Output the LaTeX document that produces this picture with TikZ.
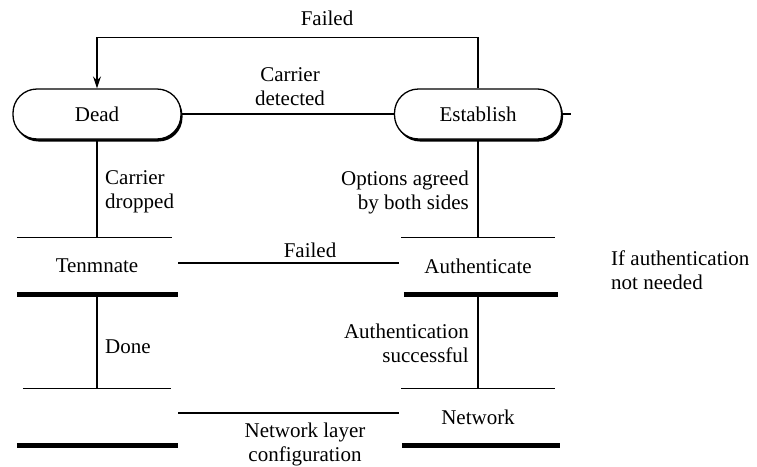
\documentclass[tikz,border=0pt]{standalone}
\usepackage{fontspec}
\newfontfamily\diagfont{Liberation Serif}
\usetikzlibrary{shadows,arrows.meta}
\begin{document}
\begin{tikzpicture}[x=1pt,y=-1pt,
  font=\diagfont\fontsize{21}{24}\selectfont,
  pill/.style={draw, line width=1.3pt, rounded corners=24pt,
    minimum width=168pt, minimum height=50pt, fill=white,
    drop shadow={shadow xshift=1.5pt, shadow yshift=-2.5pt, fill=black, opacity=1}},
  bar/.style={minimum width=155pt, minimum height=56pt, inner sep=0pt},
  lbl/.style={inner sep=0pt},
  thinln/.style={line width=1.3pt},
  thickln/.style={line width=5pt},
  vline/.style={line width=2.6pt},
  midln/.style={line width=2.4pt},
  topln/.style={line width=1.5pt}
]
\useasboundingbox (0,0) rectangle (757,466);

% rounded states
\node[pill] (dead) at (97,114) {Dead};
\node[pill, minimum width=167pt] (est) at (478,114) {Establish};
\coordinate (estout) at (571,114);

% barred states
\node[bar] (term) at (97,266) {Tenmnate};
\node[bar, minimum width=153pt] (auth) at (478,266) {Authenticate};
\node[bar, minimum width=148pt] (fin) at (97,417) {};
\node[bar, minimum width=153pt] (net) at (478,417) {Network};

% bars above and below each barred state
\draw[thinln] ([xshift=-2.5pt]term.north west) -- ([xshift=-2.5pt]term.north east);
\draw[thickln] ([xshift=-2.5pt]term.south west) -- ([xshift=3.5pt]term.south east);
\draw[thinln] (auth.north west) -- (auth.north east);
\draw[thickln] ([xshift=2.5pt]auth.south west) -- ([xshift=3.5pt]auth.south east);
\draw[thinln] (fin.north west) -- (fin.north east);
\draw[thickln] ([xshift=-6pt]fin.south west) -- ([xshift=7pt]fin.south east);
\draw[thinln] (net.north west) -- (net.north east);
\draw[thickln] ([xshift=0.5pt]net.south west) -- ([xshift=5.5pt]net.south east);

% transitions
\draw[topln, -{Stealth[length=12pt,width=8pt]}] (est.north) -- ++(0,-51) -| (dead.north);
\draw[thinln] (dead.east) -- (est.west);
\draw[thinln] (est.east) -- (estout);
\draw[vline] (dead.south) -- (term.north);
\draw[vline] (est.south) -- (auth.north);
\draw[vline] (term.south) -- (fin.north);
\draw[vline] (auth.south) -- (net.north);
\draw[midln] ([xshift=3.5pt,yshift=3pt]term.east) -- ([xshift=-2pt,yshift=3pt]auth.west);
\draw[thinln] ([xshift=7pt,yshift=4pt]fin.east) -- ([xshift=-2pt,yshift=4pt]net.west);

% labels
\node[lbl] (lfail1) at (327,18) {Failed};
\node[lbl, align=center] (lcarr) at (290,87) {Carrier\\detected};
\node[lbl, align=left, anchor=west] (ldrop) at (105,192) {Carrier\\dropped};
\node[lbl, align=right, anchor=east] (lopt) at (469,192) {Options agreed\\by both sides};
\node[lbl] (lfail2) at (310,250) {Failed};
\node[lbl, align=left, anchor=west] (lnoauth) at (611,270) {If authentication\\not needed};
\node[lbl, anchor=west] (ldone) at (105,347) {Done};
\node[lbl, align=right, anchor=east] (lsucc) at (469,343) {Authentication\\successful};
\node[lbl, align=center] (lnet) at (305,444) {Network layer\\configuration};
\end{tikzpicture}
\end{document}
